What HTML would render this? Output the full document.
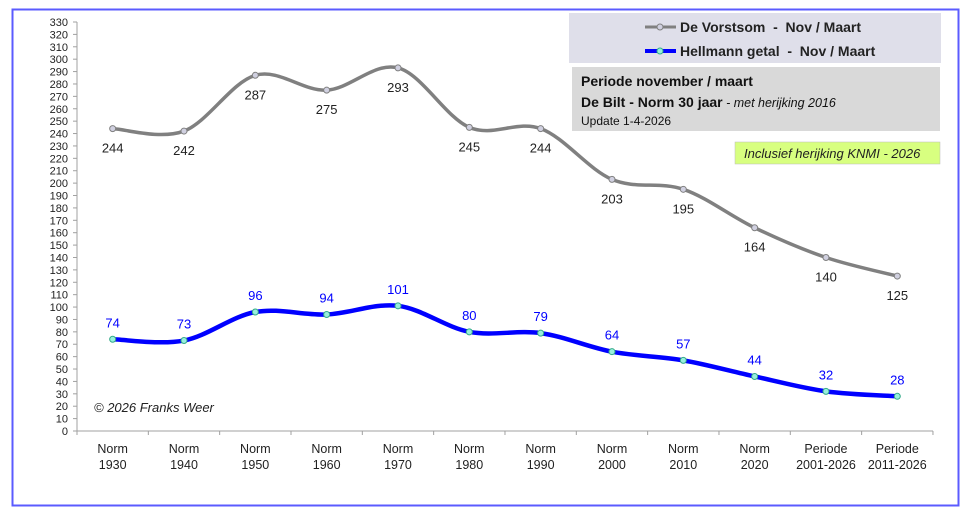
<!DOCTYPE html>
<html><head><meta charset="utf-8"><style>
body{margin:0;background:#fff;}
svg{display:block;font-family:"Liberation Sans",Calibri,sans-serif;}
</style></head><body>
<svg width="972" height="510" viewBox="0 0 972 510" xmlns="http://www.w3.org/2000/svg">
<rect x="12.5" y="9.5" width="946" height="496" fill="#fff" stroke="#5b5bff" stroke-width="2"/>
<g id="axes" stroke="#a0a0a0" stroke-width="1"></g>
<g id="ylab" font-size="11" fill="#222" text-anchor="end"></g>
<g id="xlab" font-size="12.5" fill="#222" text-anchor="middle"></g>
<path id="g" fill="none" stroke="#808080" stroke-width="3.5"/>
<path id="b" fill="none" stroke="#0000ff" stroke-width="4.5"/>
<g id="pts"></g>
<g id="lab" font-size="13" text-anchor="middle"></g>
<rect x="569" y="13" width="372" height="50" fill="#dfdfea"/>
<line x1="645" y1="27" x2="676" y2="27" stroke="#808080" stroke-width="3"/><circle cx="660" cy="27" r="3" fill="#d0d0e0" stroke="#808080"/>
<text x="680" y="32" font-size="14" font-weight="bold" fill="#222">De Vorstsom&#160;&#160;-&#160;&#160;Nov / Maart</text>
<line x1="645" y1="51" x2="676" y2="51" stroke="#0000ff" stroke-width="4"/><circle cx="660" cy="51" r="3" fill="#9ed" stroke="#3a8"/>
<text x="680" y="56" font-size="14" font-weight="bold" fill="#222">Hellmann getal&#160;&#160;-&#160;&#160;Nov / Maart</text>
<rect x="572" y="67" width="368" height="64" fill="#d9d9d9"/>
<text x="581" y="86" font-size="14" font-weight="bold" fill="#111">Periode november / maart</text>
<text x="581" y="107" font-size="14" fill="#111"><tspan font-weight="bold">De Bilt - Norm 30 jaar</tspan><tspan font-size="12.5" font-style="italic"> - met herijking 2016</tspan></text>
<text x="581" y="125" font-size="12" fill="#111">Update 1-4-2026</text>
<rect x="735" y="142" width="205" height="22" fill="#d8ff80" stroke="#bbb" stroke-width="0.5"/>
<text x="744" y="158" font-size="13" font-style="italic" fill="#222">Inclusief herijking KNMI - 2026</text>
<text x="94" y="412" font-size="13" font-style="italic" fill="#222">© 2026 Franks Weer</text>
</svg>
<script>
const ns="http://www.w3.org/2000/svg";
function el(p,t,a,txt){const e=document.createElementNS(ns,t);for(const k in a)e.setAttribute(k,a[k]);if(txt!==undefined)e.textContent=txt;document.getElementById(p).appendChild(e);return e;}
const X=i=>77+35.67+i*71.33, Y=v=>431-v*409/330;
el("axes","line",{x1:77,y1:22,x2:77,y2:431});
el("axes","line",{x1:77,y1:431,x2:933,y2:431});
for(let v=0;v<=330;v+=10){el("axes","line",{x1:73,y1:Y(v),x2:77,y2:Y(v)});el("ylab","text",{x:68,y:Y(v)+4},v);}
for(let i=0;i<=12;i++)el("axes","line",{x1:77+i*71.33,y1:431,x2:77+i*71.33,y2:435});
const cats=[["Norm","1930"],["Norm","1940"],["Norm","1950"],["Norm","1960"],["Norm","1970"],["Norm","1980"],["Norm","1990"],["Norm","2000"],["Norm","2010"],["Norm","2020"],["Periode","2001-2026"],["Periode","2011-2026"]];
cats.forEach((c,i)=>{el("xlab","text",{x:X(i),y:453},c[0]);el("xlab","text",{x:X(i),y:469},c[1]);});
const g=[244,242,287,275,293,245,244,203,195,164,140,125];
const b=[74,73,96,94,101,80,79,64,57,44,32,28];
function path(d){const p=d.map((v,i)=>[X(i),Y(v)]);let s="M"+p[0];for(let i=0;i<p.length-1;i++){const p0=p[i-1]||p[i],p1=p[i],p2=p[i+1],p3=p[i+2]||p2;const t=6;s+=` C${p1[0]+(p2[0]-p0[0])/t},${p1[1]+(p2[1]-p0[1])/t} ${p2[0]-(p3[0]-p1[0])/t},${p2[1]-(p3[1]-p1[1])/t} ${p2[0]},${p2[1]}`;}return s;}
document.getElementById("g").setAttribute("d",path(g));
document.getElementById("b").setAttribute("d",path(b));
g.forEach((v,i)=>{el("pts","circle",{cx:X(i),cy:Y(v),r:3,fill:"#d0d0e0",stroke:"#808080"});el("lab","text",{x:X(i),y:Y(v)+24,fill:"#222"},v);});
b.forEach((v,i)=>{el("pts","circle",{cx:X(i),cy:Y(v),r:3,fill:"#9ed","stroke":"#3a8"});el("lab","text",{x:X(i),y:Y(v)-12,fill:"#0000ff"},v);});
</script>
</body></html>
